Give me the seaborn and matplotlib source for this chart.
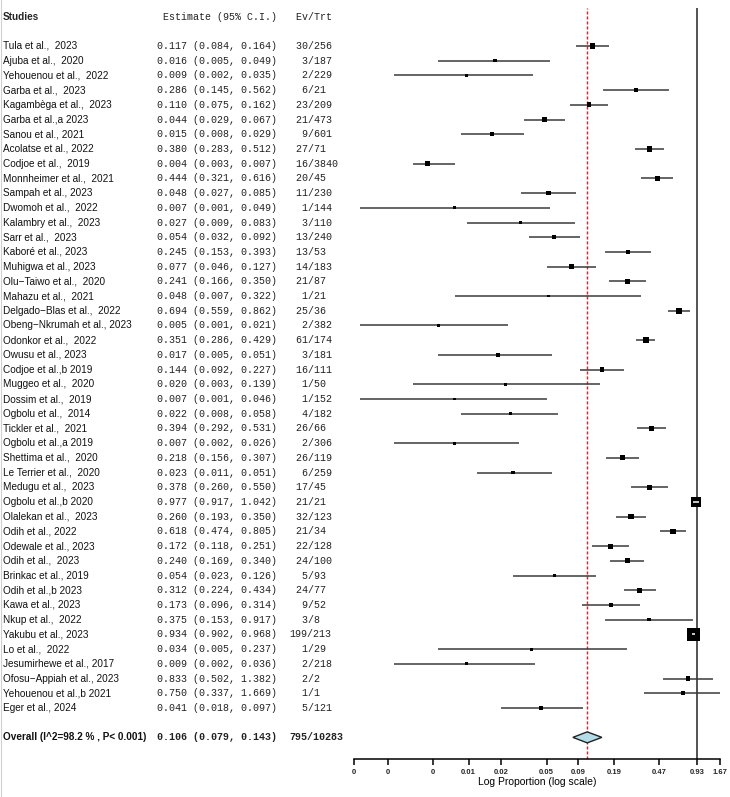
import numpy as np
import pandas as pd
import matplotlib
matplotlib.use("Agg")
import matplotlib.pyplot as plt
import seaborn as sns
from matplotlib.transforms import blended_transform_factory
from matplotlib.patches import Polygon
from matplotlib.ticker import NullLocator
from matplotlib.lines import Line2D

studies = [
    "Tula et al.,  2023", "Ajuba et al.,  2020", "Yehouenou et al.,  2022", "Garba et al.,  2023",
    "Kagambèga et al.,  2023", "Garba et al.,a 2023", "Sanou et al., 2021", "Acolatse et al., 2022",
    "Codjoe et al.,  2019", "Monnheimer et al.,  2021", "Sampah et al., 2023", "Dwomoh et al.,  2022",
    "Kalambry et al.,  2023", "Sarr et al.,  2023", "Kaboré et al., 2023", "Muhigwa et al., 2023",
    "Olu\u2212Taiwo et al.,  2020", "Mahazu et al.,  2021", "Delgado\u2212Blas et al.,  2022",
    "Obeng\u2212Nkrumah et al., 2023", "Odonkor et al.,  2022", "Owusu et al., 2023",
    "Codjoe et al.,b 2019", "Muggeo et al.,  2020", "Dossim et al.,  2019", "Ogbolu et al.,  2014",
    "Tickler et al.,  2021", "Ogbolu et al.,a 2019", "Shettima et al.,  2020", "Le Terrier et al.,  2020",
    "Medugu et al.,  2023", "Ogbolu et al.,b 2020", "Olalekan et al.,  2023", "Odih et al., 2022",
    "Odewale et al., 2023", "Odih et al.,  2023", "Brinkac et al., 2019", "Odih et al.,b 2023",
    "Kawa et al., 2023", "Nkup et al.,  2022", "Yakubu et al., 2023", "Lo et al.,  2022",
    "Jesumirhewe et al., 2017", "Ofosu\u2212Appiah et al., 2023", "Yehouenou et al.,b 2021", "Eger et al., 2024",
]
est = [0.117, 0.016, 0.009, 0.286, 0.110, 0.044, 0.015, 0.380, 0.004, 0.444, 0.048, 0.007,
       0.027, 0.054, 0.245, 0.077, 0.241, 0.048, 0.694, 0.005, 0.351, 0.017, 0.144, 0.020,
       0.007, 0.022, 0.394, 0.007, 0.218, 0.023, 0.378, 0.977, 0.260, 0.618, 0.172, 0.240,
       0.054, 0.312, 0.173, 0.375, 0.934, 0.034, 0.009, 0.833, 0.750, 0.041]
lo = [0.084, 0.005, 0.002, 0.145, 0.075, 0.029, 0.008, 0.283, 0.003, 0.321, 0.027, 0.001,
      0.009, 0.032, 0.153, 0.046, 0.166, 0.007, 0.559, 0.001, 0.286, 0.005, 0.092, 0.003,
      0.001, 0.008, 0.292, 0.002, 0.156, 0.011, 0.260, 0.917, 0.193, 0.474, 0.118, 0.169,
      0.023, 0.224, 0.096, 0.153, 0.902, 0.005, 0.002, 0.502, 0.337, 0.018]
hi = [0.164, 0.049, 0.035, 0.562, 0.162, 0.067, 0.029, 0.512, 0.007, 0.616, 0.085, 0.049,
      0.083, 0.092, 0.393, 0.127, 0.350, 0.322, 0.862, 0.021, 0.429, 0.051, 0.227, 0.139,
      0.046, 0.058, 0.531, 0.026, 0.307, 0.051, 0.550, 1.042, 0.350, 0.805, 0.251, 0.340,
      0.126, 0.434, 0.314, 0.917, 0.968, 0.237, 0.036, 1.382, 1.669, 0.097]
events = [30, 3, 2, 6, 23, 21, 9, 27, 16, 20, 11, 1, 3, 13, 13, 14, 21, 1, 25, 2, 61, 3, 16, 1,
          1, 4, 26, 2, 26, 6, 17, 21, 32, 21, 22, 24, 5, 24, 9, 3, 199, 1, 2, 2, 1, 5]
totals = [256, 187, 229, 21, 209, 473, 601, 71, 3840, 45, 230, 144, 110, 240, 53, 183, 87, 21,
          36, 382, 174, 181, 111, 50, 152, 182, 66, 306, 119, 259, 45, 21, 123, 34, 128, 100,
          93, 77, 52, 8, 213, 29, 218, 2, 1, 121]

overall_label = "Overall (I^2=98.2 % , P< 0.001)"
overall_est, overall_lo, overall_hi = 0.106, 0.079, 0.143
overall_events, overall_total = 795, 10283

tick_vals = [0.00089, 0.0018, 0.0045, 0.0093, 0.0182, 0.046, 0.088, 0.184, 0.464, 1.0, 1.61]
tick_labels = ["0", "0", "0", "0.01", "0.02", "0.05", "0.09", "0.19", "0.47", "0.93", "1.67"]

# ---------------------------------------------------------------
df = pd.DataFrame({"study": studies, "est": est, "lo": lo, "hi": hi,
                   "ev": events, "tot": totals})
df["row"] = np.arange(len(df))
se = (np.log(df["hi"]) - np.log(df["lo"])) / (2 * 1.96)
rw = np.sqrt(1.0 / se)
side_px = 2.8 + 10.5 * (rw - rw.min()) / (rw.max() - rw.min())
df["area"] = (side_px * 72.0 / 100.0) ** 2
overall_row = len(df) + 1

sns.set_theme(style="white")
plt.rcParams["font.family"] = ["Liberation Sans", "DejaVu Sans"]

W, H = 730, 797
fig = plt.figure(figsize=(W / 100, H / 100), dpi=100)
ax = fig.add_axes([354 / W, (H - 759) / H, 366 / W, (759 - 8) / H])

row0_px, step_px = 46.0, 14.71
ylim_top = (8 - row0_px) / step_px
ylim_bot = (759 - row0_px) / step_px

ax.set_xscale("log")
ax.set_xlim(tick_vals[0], tick_vals[-1])
ax.set_ylim(ylim_bot, ylim_top)

# reference lines
ax.axvline(1.0, color="#444444", lw=1.3, zorder=1)
ax.axvline(overall_est, color="#ee1c25", lw=1.0, ls=(0, (2.2, 1.4)), zorder=1)

# CI lines
ax.hlines(df["row"], df["lo"], df["hi"], color="#3a3a3a", lw=1.1, zorder=2)

# boxes
amin, amax = df["area"].min(), df["area"].max()
sns.scatterplot(data=df, x="est", y="row", size="area", sizes=(amin, amax),
                size_norm=(amin, amax), marker="s", color="black", linewidth=0,
                legend=False, ax=ax, zorder=3)

# white CI segment inside boxes that are wider than their CI
fig.canvas.draw()
for _, r in df.iterrows():
    p = ax.transData.transform([(r["lo"], r["row"]), (r["hi"], r["row"])])
    span = abs(p[1][0] - p[0][0])
    side = np.sqrt(r["area"]) * 100 / 72
    if side > span + 1:
        ax.hlines(r["row"], r["lo"], r["hi"], color="white", lw=1.1, zorder=4)

# diamond
h = 5.5 / step_px
dia = Polygon([(overall_lo, overall_row), (overall_est, overall_row - h),
               (overall_hi, overall_row), (overall_est, overall_row + h)],
              closed=True, facecolor="#b5dde8", edgecolor="#222222", lw=1.0, zorder=5)
ax.add_patch(dia)

# axes styling
for s in ["top", "left", "right"]:
    ax.spines[s].set_visible(False)
ax.spines["bottom"].set_color("black")
ax.spines["bottom"].set_linewidth(1.1)
ax.set_xticks(tick_vals)
ax.set_xticklabels(tick_labels)
ax.xaxis.set_minor_locator(NullLocator())
ax.set_yticks([])
ax.tick_params(axis="x", bottom=True, direction="out", length=4, width=1.1,
               color="black", labelsize=5.5, pad=3)
for t in ax.get_xticklabels():
    t.set_fontweight("bold")
ax.set_xlabel("Log Proportion (log scale)", fontsize=7.5, labelpad=1, color="black")
ax.set_ylabel("")
ax.patch.set_alpha(0)

# text table
trans = blended_transform_factory(fig.transFigure, ax.transData)
x_name, x_est, x_ev = 3 / W, 157.3 / W, 289.7 / W
mono = ["Liberation Mono", "DejaVu Sans Mono"]
sans = ["Liberation Sans", "DejaVu Sans"]
hdr = -2
ax.text(x_name, hdr, "Studies", transform=trans, fontsize=7.2, fontweight="bold",
        family=sans, va="center", ha="left")
ax.text(x_est, hdr, " Estimate (95% C.I.)", transform=trans, fontsize=7.2,
        family=mono, va="center", ha="left", color="#222222")
ax.text(x_ev, hdr, " Ev/Trt", transform=trans, fontsize=7.2,
        family=mono, va="center", ha="left", color="#222222")

for _, r in df.iterrows():
    ax.text(x_name, r["row"], r["study"], transform=trans, fontsize=7.2, family=sans,
            va="center", ha="left", color="#111111")
    ax.text(x_est, r["row"], f"{r['est']:.3f} ({r['lo']:.3f}, {r['hi']:.3f})",
            transform=trans, fontsize=7.2, family=mono, va="center", ha="left", color="#222222")
    ax.text(x_ev, r["row"], f"{int(r['ev']):>3d}/{int(r['tot'])}", transform=trans,
            fontsize=7.2, family=mono, va="center", ha="left", color="#222222")

ax.text(x_name, overall_row, overall_label, transform=trans, fontsize=7.2, family=sans,
        fontweight="bold", va="center", ha="left", color="#111111")
ax.text(x_est, overall_row, f"{overall_est:.3f} ({overall_lo:.3f}, {overall_hi:.3f})",
        transform=trans, fontsize=7.2, family=mono, fontweight="bold", va="center",
        ha="left", color="#222222")
ax.text(x_ev, overall_row, f"{overall_events:>3d}/{overall_total}", transform=trans,
        fontsize=7.2, family=mono, fontweight="bold", va="center", ha="left", color="#222222")

fig.add_artist(Line2D([0.6 / W, 0.6 / W], [0, 1], transform=fig.transFigure,
                      color="#d0d0d0", lw=0.8))

fig.savefig("out.png", dpi=100, facecolor="white")
